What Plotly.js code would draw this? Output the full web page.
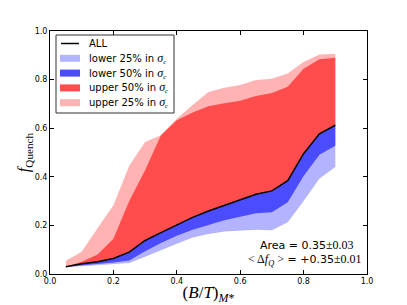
<!DOCTYPE html>
<html>
<head>
<meta charset="utf-8">
<script src="https://cdn.plot.ly/plotly-3.0.1.min.js"></script>
<style>html,body{margin:0;padding:0;background:#fff;}#chart{width:407px;height:305px;}</style>
</head>
<body>
<div id="chart"></div>
<script>
// ---- data ----
const btValues = [0.05,0.10,0.15,0.20,0.25,0.30,0.35,0.40,0.45,0.50,0.55,0.60,0.65,0.70,0.75,0.80,0.85,0.90];
const fqAll     = [0.030,0.042,0.050,0.064,0.090,0.138,0.170,0.201,0.233,0.259,0.283,0.305,0.328,0.342,0.384,0.495,0.577,0.612];
const fqLower50 = [0.030,0.036,0.040,0.047,0.056,0.094,0.128,0.157,0.182,0.203,0.221,0.236,0.250,0.254,0.295,0.403,0.491,0.528];
const fqLower25 = [0.028,0.033,0.037,0.040,0.045,0.071,0.099,0.125,0.150,0.165,0.175,0.178,0.182,0.180,0.213,0.300,0.393,0.440];
const fqUpper50 = [0.030,0.050,0.080,0.145,0.300,0.427,0.571,0.633,0.665,0.690,0.703,0.713,0.733,0.745,0.771,0.845,0.884,0.890];
const fqUpper25 = [0.055,0.092,0.188,0.283,0.445,0.543,0.571,0.639,0.695,0.749,0.766,0.778,0.798,0.804,0.825,0.872,0.903,0.905];
const seriesNames = ['ALL','lower 25% in σc','lower 50% in σc','upper 50% in σc','upper 25% in σc'];
const tickVals = [0.0,0.2,0.4,0.6,0.8,1.0];
const tickText = ['0.0','0.2','0.4','0.6','0.8','1.0'];
const areaText = ['0.35','0.03'];
const deltaText = ['+0.35','0.01'];

// ---- styles ----
const C = {light:'#b3b3ff', dark:'#4c4cff', red:'#ff4c4c', pink:'#ffb3b3'};
const SERIF = 'Liberation Serif';
const SANS = 'DejaVu Sans';
const SERIF_SPAN = 'font-family:Liberation Serif;font-size:12px';

function hidden(y){
  return {x:btValues, y:y, mode:'lines', line:{width:0,color:'rgba(0,0,0,0)'}, showlegend:false, hoverinfo:'skip'};
}
function band(y, color, name){
  return {x:btValues, y:y, mode:'lines', fill:'tonexty', fillcolor:color, line:{width:0,color:color}, name:name, showlegend:false, hoverinfo:'skip'};
}
const traces = [
  hidden(fqAll), band(fqLower25, C.light, seriesNames[1]),
  hidden(fqAll), band(fqLower50, C.dark, seriesNames[2]),
  hidden(fqAll), band(fqUpper25, C.pink, seriesNames[4]),
  hidden(fqAll), band(fqUpper50, C.red, seriesNames[3]),
  {x:btValues, y:fqAll, mode:'lines', line:{color:'#000',width:1.5}, name:seriesNames[0], showlegend:false}
];

// plot area in pixels
const L=50, R=367, T=31, B=274;
const px = v => (v-L)/(R-L);
const py = v => (B-v)/(B-T);

function sigmaLabel(name){
  return name.replace('σc', '<i><span style="font-family:Liberation Serif;font-size:12px">σ</span></i><sub><i><span style="font-family:Liberation Serif">c</span></i></sub>');
}

// manual legend (matplotlib-like compact box)
const shapes = [];
const annotations = [];
shapes.push({type:'rect', xref:'paper', yref:'paper', x0:px(56), x1:px(174), y0:py(113), y1:py(35),
  line:{color:'#333',width:1}, fillcolor:'#fff', layer:'above'});
const legendOrder = [0,1,2,3,4];
const legendColors = [null, C.light, C.dark, C.red, C.pink];
legendOrder.forEach((k,i)=>{
  const yc = 43.5 + i*14.8;
  if(k===0){
    shapes.push({type:'line', xref:'paper', yref:'paper', x0:px(61), x1:px(79), y0:py(yc), y1:py(yc), line:{color:'#000',width:1.5}, layer:'above'});
  } else {
    shapes.push({type:'rect', xref:'paper', yref:'paper', x0:px(60), x1:px(80), y0:py(yc+3.5), y1:py(yc-3.5), line:{width:0}, fillcolor:legendColors[k], layer:'above'});
  }
  annotations.push({xref:'paper', yref:'paper', x:px(88), y:py(yc), xanchor:'left', yanchor:'middle', showarrow:false,
    borderpad:0, text:sigmaLabel(seriesNames[k]), font:{family:SANS,size:10,color:'#000'}});
});

annotations.push({xref:'paper', yref:'paper', x:px(355), y:py(245.3), xanchor:'right', yanchor:'middle', showarrow:false,
  borderpad:0, text:'Area = '+areaText[0]+'<span style="'+SERIF_SPAN+'">±'+areaText[1]+'</span>',
  font:{family:SANS,size:11,color:'#000'}});
annotations.push({xref:'paper', yref:'paper', x:px(363), y:py(259.5), xanchor:'right', yanchor:'middle', showarrow:false,
  borderpad:0, text:'<span style="'+SERIF_SPAN+'">&lt; Δ<i>f</i><sub><i>Q</i></sub> &gt;</span> = '+deltaText[0]+'<span style="'+SERIF_SPAN+'">±'+deltaText[1]+'</span>',
  font:{family:SANS,size:11,color:'#000'}});

const axisCommon = {
  range:[0,1], tickvals:tickVals, ticktext:tickText, ticks:'inside', ticklen:4, tickwidth:1, tickcolor:'#000',
  showline:true, linecolor:'#000', linewidth:1, mirror:'ticks', showgrid:false, zeroline:false,
  tickfont:{family:SANS,size:8,color:'#000'}, fixedrange:true
};

const layout = {
  width:407, height:305,
  margin:{l:L, r:407-R, t:T, b:305-B, pad:0},
  paper_bgcolor:'#fff', plot_bgcolor:'#fff',
  showlegend:false,
  xaxis:Object.assign({}, axisCommon, {
    title:{text:'(<i>B</i>/<i>T</i>)<sub><i>M</i>*</sub>', font:{family:SERIF,size:17,color:'#000'}, standoff:0},
    ticklabelstandoff:-1
  }),
  yaxis:Object.assign({}, axisCommon, {
    title:{text:'<i>f</i><sub>Quench</sub>', font:{family:SERIF,size:16,color:'#000'}, standoff:0},
    ticklabelstandoff:0
  }),
  shapes:shapes,
  annotations:annotations
};

Plotly.newPlot('chart', traces, layout, {staticPlot:true, displayModeBar:false});
</script>
</body>
</html>
